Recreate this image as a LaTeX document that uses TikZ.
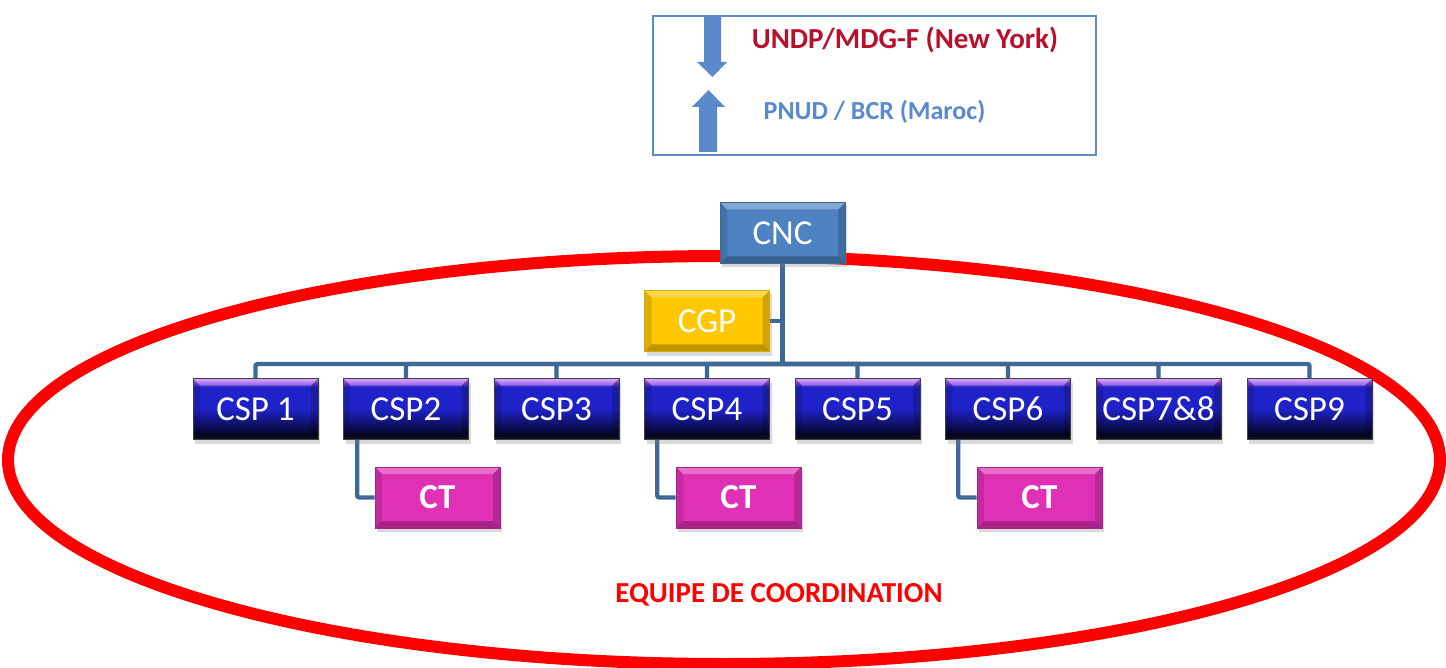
\documentclass[tikz,border=0pt]{standalone}
\usepackage{fontspec}
\setmainfont{Carlito}
\usetikzlibrary{shadows,calc,backgrounds}
\definecolor{connc}{HTML}{3E6896}
\definecolor{legendblue}{HTML}{5B8BC8}
\definecolor{arrowblue}{HTML}{5A8ACB}
\definecolor{undpred}{HTML}{B8102A}
\definecolor{pnudblue}{HTML}{5A8ACB}
\definecolor{cncblue}{HTML}{4E82C0}
\definecolor{cgpgold}{HTML}{FFC800}
\definecolor{ctmag}{HTML}{E030B6}
\definecolor{cspK}{HTML}{15151F}
\definecolor{cspD}{HTML}{06062E}
\definecolor{cspB}{HTML}{1F22C8}
\definecolor{cspV}{HTML}{7A3BE0}
\definecolor{cspL}{HTML}{D080FF}
\pgfdeclareverticalshading{cspshade}{100bp}{color(0bp)=(cspK); color(25bp)=(cspK); color(30bp)=(cspD); color(50bp)=(cspB); color(68bp)=(cspB); color(71bp)=(cspV); color(75bp)=(cspL); color(100bp)=(cspL)}
\tikzset{
  bevel/.style={path picture={
    \path (path picture bounding box.north west) coordinate (bnw)
          (path picture bounding box.north east) coordinate (bne)
          (path picture bounding box.south west) coordinate (bsw)
          (path picture bounding box.south east) coordinate (bse);
    \fill[white,opacity=.30] (bnw) -- (bne) -- ([xshift=-7pt,yshift=-7pt]bne) -- ([xshift=7pt,yshift=-7pt]bnw) -- cycle;
    \fill[black,opacity=.25] (bsw) -- (bse) -- ([xshift=-7pt,yshift=7pt]bse) -- ([xshift=7pt,yshift=7pt]bsw) -- cycle;
    \fill[black,opacity=.12] (bnw) -- ([xshift=7pt,yshift=-7pt]bnw) -- ([xshift=7pt,yshift=7pt]bsw) -- (bsw) -- cycle;
    \fill[black,opacity=.18] (bne) -- ([xshift=-7pt,yshift=-7pt]bne) -- ([xshift=-7pt,yshift=7pt]bse) -- (bse) -- cycle;
  }},
  box/.style={minimum width=125pt, minimum height=61pt, inner sep=0pt, text=white,
    font=\fontsize{35}{40}\selectfont,
    drop shadow={opacity=.3,shadow xshift=2pt,shadow yshift=-4pt}, bevel},
  cncbox/.style={box, fill=cncblue, draw=cncblue!80!black, line width=.6pt},
  cgpbox/.style={box, fill=cgpgold, draw=cgpgold!85!black, line width=.6pt},
  ctbox/.style={box, fill=ctmag, draw=ctmag!75!black, line width=.6pt, font=\fontsize{35}{40}\selectfont\bfseries},
  cspbox/.style={box, shading=cspshade, draw=black!75, line width=.6pt},
  conn/.style={draw=connc, line width=4.3pt},
}
\begin{document}
\begin{tikzpicture}[x=1pt,y=-1pt]
\useasboundingbox (0,0) rectangle (1446,668);
% ellipse
\draw[red, line width=12pt] (724,460) ellipse [x radius=716, y radius=204];
% legend
\node[draw=legendblue, line width=2pt, minimum width=443pt, minimum height=139pt, inner sep=0pt, anchor=north west] (legend) at (652,15) {};
\fill[arrowblue] (704,17) -- (721,17) -- (721,62) -- (727,62) -- (712.5,77) -- (697,62) -- (704,62) -- cycle;
\fill[arrowblue] (699,152) -- (717,152) -- (717,107) -- (725,107) -- (708.5,90) -- (692,107) -- (699,107) -- cycle;
\node[text=undpred, font=\fontsize{29}{34}\selectfont\bfseries] (undp) at (905,40) {UNDP/MDG-F (New York)};
\node[text=pnudblue, font=\fontsize{26}{30}\selectfont\bfseries] (pnud) at (874.5,112) {PNUD / BCR (Maroc)};
% boxes
\node[cncbox] (cnc) at (782.5,233) {CNC};
\node[cgpbox] (cgp) at (707,321) {CGP};
\coordinate (bus) at (782.5,364);
\node[cspbox] (csp1) at (255.5,409) {CSP 1};
\node[cspbox] (csp2) at (406,409) {CSP2};
\node[cspbox] (csp3) at (556.5,409) {CSP3};
\node[cspbox] (csp4) at (707,409) {CSP4};
\node[cspbox] (csp5) at (857.5,409) {CSP5};
\node[cspbox] (csp6) at (1008,409) {CSP6};
\node[cspbox] (csp7) at (1158.5,409) {CSP7\&8};
\node[cspbox] (csp9) at (1309.5,409) {CSP9};
\node[ctbox] (ct1) at (437.5,497.5) {CT};
\node[ctbox] (ct2) at (738.5,497.5) {CT};
\node[ctbox] (ct3) at (1039.5,497.5) {CT};
% connectors
\begin{scope}[on background layer]
\draw[conn] (cnc.south) -- (bus);
\draw[conn] (cgp.east) -- (cgp.east -| cnc.south);
\foreach \n in {csp1,csp2,csp3,csp4,csp5,csp6,csp7,csp9}{
  \draw[conn, rounded corners=2pt] (bus) -| (\n.north);
}
\draw[conn, rounded corners=2pt] ([xshift=14pt]csp2.south west) |- (ct1.west);
\draw[conn, rounded corners=2pt] ([xshift=13pt]csp4.south west) |- (ct2.west);
\draw[conn, rounded corners=2pt] ([xshift=13pt]csp6.south west) |- (ct3.west);
\end{scope}
% label
\node[text=red, font=\fontsize{29}{34}\selectfont\bfseries] (equipe) at (779,595) {EQUIPE DE COORDINATION};
\end{tikzpicture}
\end{document}
